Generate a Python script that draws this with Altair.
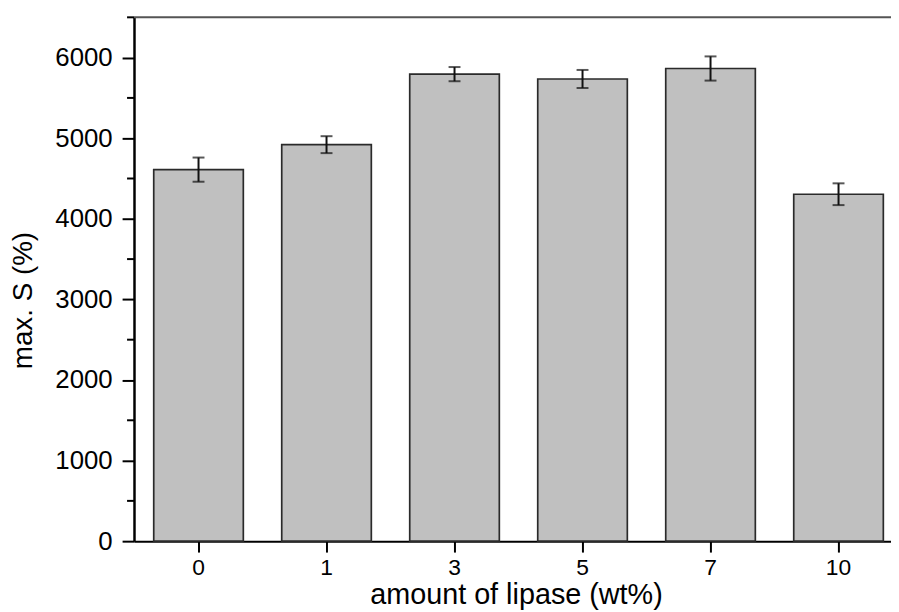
import altair as alt
import pandas as pd

categories = ["0", "1", "3", "5", "7", "10"]
values = [4610, 4920, 5795, 5735, 5865, 4305]
errors = [150, 105, 88, 112, 150, 135]
y_major = [0, 1000, 2000, 3000, 4000, 5000, 6000]
y_minor = [500, 1500, 2500, 3500, 4500, 5500, 6500]

df = pd.DataFrame({"cat": categories, "val": values, "err": errors})
df["lo"] = df["val"] - df["err"]
df["hi"] = df["val"] + df["err"]
minor_df = pd.DataFrame({"m": y_minor})

W, H = 763, 528
FONT = "Liberation Sans"

xscale = alt.Scale(domain=categories, paddingInner=0.3, paddingOuter=0.107, align=0.72)
yscale = alt.Scale(domain=[0, 6500], nice=False, zero=True)

xaxis = alt.Axis(
    title="amount of lipase (wt%)", labelAngle=0, labelFont=FONT, labelFontSize=23,
    labelColor="black", labelPadding=5, tickSize=11, tickWidth=2, tickColor="black",
    domainColor="black", domainWidth=2, grid=False,
    titleFont=FONT, titleFontSize=29, titleFontWeight="normal", titleColor="black",
    titleX=385, titleY=63, titleBaseline="alphabetic", titleAlign="center",
)
yaxis = alt.Axis(
    title="max. S (%)", values=y_major, format="d", labelFont=FONT, labelFontSize=26,
    labelColor="black", labelPadding=10, tickSize=12, tickWidth=2, tickColor="black",
    domainColor="black", domainWidth=2.5, grid=False,
    titleFont=FONT, titleFontSize=28, titleFontWeight="normal", titleColor="black",
    titleX=-111, titleY=285, titleAlign="center", titleBaseline="middle",
)

X = alt.X("cat:N", sort=categories, scale=xscale, axis=xaxis)

bars = alt.Chart(df).mark_bar(color="#c0c0c0", stroke="#2a2a2a", strokeWidth=1.7).encode(
    x=X, y=alt.Y("val:Q", scale=yscale, axis=yaxis)
)
rules = alt.Chart(df).mark_rule(color="#111111", strokeWidth=2).encode(
    x=X, y=alt.Y("lo:Q", scale=yscale, axis=yaxis), y2="hi:Q"
)
cap_lo = alt.Chart(df).mark_tick(color="#111111", size=12, thickness=2).encode(
    x=X, y=alt.Y("lo:Q", scale=yscale, axis=yaxis)
)
cap_hi = alt.Chart(df).mark_tick(color="#111111", size=12, thickness=2).encode(
    x=X, y=alt.Y("hi:Q", scale=yscale, axis=yaxis)
)
minor = alt.Chart(minor_df).mark_rule(color="black", strokeWidth=2).encode(
    y=alt.Y("m:Q", scale=yscale, axis=yaxis), x=alt.value(-7), x2=alt.value(0)
)
top = alt.Chart(pd.DataFrame({"a": [0]})).mark_rule(color="#555555", strokeWidth=2).encode(
    x=alt.value(0), x2=alt.value(W), y=alt.value(0)
)

chart = alt.layer(bars, rules, cap_lo, cap_hi, minor, top).properties(
    width=W, height=H,
    autosize=alt.AutoSizeParams(type="none"),
    padding={"left": 127, "top": 7, "right": 0, "bottom": 69},
    background="white",
).configure_view(stroke=None)

chart.save("out.html", embed_options={"renderer": "svg", "actions": False})
